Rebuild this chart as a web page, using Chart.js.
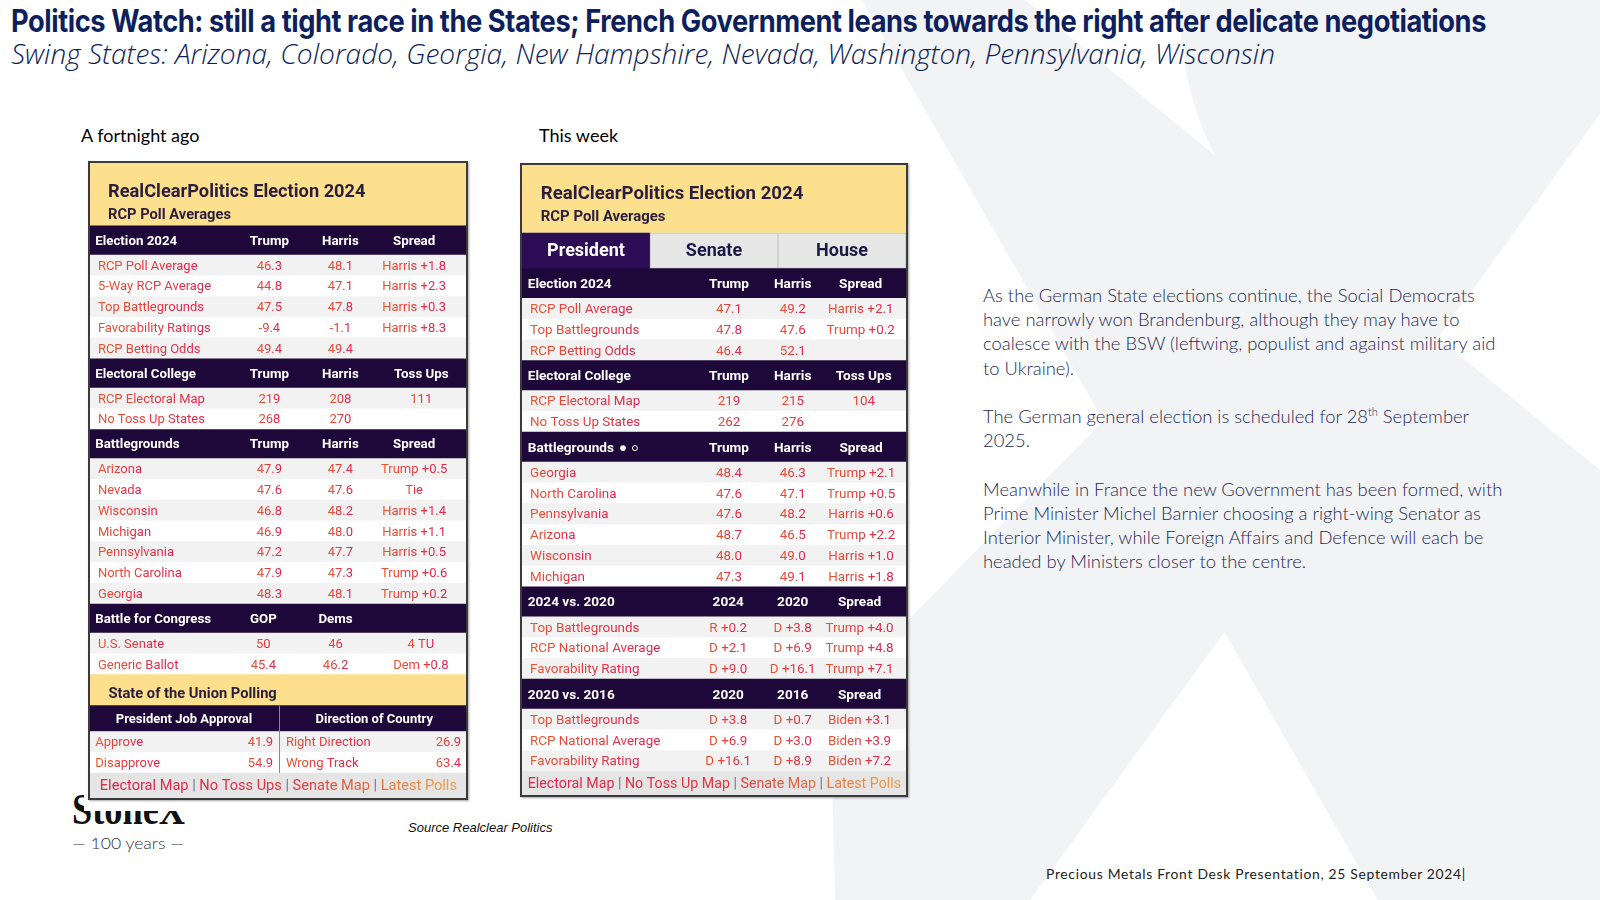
<!DOCTYPE html>
<html>
<head>
<meta charset="utf-8">
<title>Politics Watch</title>
<script src="https://cdn.jsdelivr.net/npm/chart.js"></script>
<style>
  body { margin: 0; width: 1600px; height: 900px; position: relative; overflow: hidden; background: #fff; font-family: Lato, sans-serif; }
  .abs { position: absolute; white-space: nowrap; }
  .fit { transform-origin: left center; display: inline-block; }
  .bg { position: absolute; left: 0; top: 0; }
  .tbl { position: absolute; border: 2px solid #3b3b3b; box-shadow: 1px 1px 2px rgba(0,0,0,0.35); background: #fff; z-index: 3; }
  .tbl canvas { display: block; }
  #mask { position: absolute; left: 84px; top: 150px; width: 388px; height: 661px; background: #fff; z-index: 2; }
</style>
</head>
<body>
<svg class="bg" width="1600" height="900">
  <path d="M862,0 L1025,0 L1600,470 L1600,900 L1378,900 Z" fill="#f2f3f5"/>
  <path d="M1180,0 L1600,0 L1600,114 L1030,900 L835,900 L830,700 L1280,240 C1212,180 1178,90 1180,0 Z" fill="#f2f3f5"/>
</svg>

<div id="title" class="abs fit" data-w="1475" style="left:11px; top:3px; font:700 31px/36px Inter; color:#0d1f5c; letter-spacing:-0.5px">Politics Watch: still a tight race in the States; French Government leans towards the right after delicate negotiations</div>
<div id="subtitle" class="abs fit" data-w="1264" style="left:11px; top:36px; font:italic 300 27px/36px 'Open Sans'; color:#0d1f5c">Swing States: Arizona, Colorado, Georgia, New Hampshire, Nevada, Washington, Pennsylvania, Wisconsin</div>

<div class="abs" style="left:81px; top:125px; font:18px/20px Lato; color:#000">A fortnight ago</div>
<div class="abs" style="left:539px; top:125px; font:18px/20px Lato; color:#000">This week</div>

<div class="abs fit" data-w="113" style="left:72px; top:788px; font:bold 44px/44px 'Liberation Serif'; color:#111">StoneX</div>
<div class="abs fit" data-w="112" style="left:72px; top:833px; font:300 16px/20px Lato; color:#333">— 100 years —</div>
<div id="mask"></div>

<div class="tbl" style="left:88px; top:161px"><canvas id="fortnightTable" width="376" height="635"></canvas></div>
<div class="tbl" style="left:520px; top:163px"><canvas id="weekTable" width="384" height="630"></canvas></div>

<div class="abs" style="left:408px; top:820px; font:italic 13px/16px 'Liberation Sans'; color:#111">Source Realclear Politics</div>

<div class="abs" style="left:983px; top:283px; font:300 18.4px/24.2px Lato; color:#1f2a56">
As the German State elections continue, the Social Democrats<br>
have narrowly won Brandenburg, although they may have to<br>
coalesce with the BSW (leftwing, populist and against military aid<br>
to Ukraine).<br>
<br>
The German general election is scheduled for 28<sup style="font-size:11px; line-height:0; vertical-align:7px">th</sup> September<br>
2025.<br>
<br>
Meanwhile in France the new Government has been formed, with<br>
Prime Minister Michel Barnier choosing a right-wing Senator as<br>
Interior Minister, while Foreign Affairs and Defence will each be<br>
headed by Ministers closer to the centre.
</div>

<div class="abs fit" data-w="420" style="left:1046px; top:865px; font:14px/18px Lato; letter-spacing:0.7px; color:#222">Precious Metals Front Desk Presentation, 25 September 2024|</div>

<script>
// Tabella di due settimane fa
const electionHead = ['Election 2024', 'Trump', 'Harris', 'Spread'];
const collegeHead = ['Electoral College', 'Trump', 'Harris', 'Toss Ups'];
const battleHead = ['Battlegrounds', 'Trump', 'Harris', 'Spread'];
const congressHead = ['Battle for Congress', 'GOP', 'Dems', ''];
const vs2020Head = ['2024 vs. 2020', '2024', '2020', 'Spread'];
const vs2016Head = ['2020 vs. 2016', '2020', '2016', 'Spread'];
const unionHead = ['President Job Approval', 'Direction of Country'];

const oldElectionRows = [
  ['RCP Poll Average', 46.3, 48.1, 'Harris +1.8'],
  ['5-Way RCP Average', 44.8, 47.1, 'Harris +2.3'],
  ['Top Battlegrounds', 47.5, 47.8, 'Harris +0.3'],
  ['Favorability Ratings', -9.4, -1.1, 'Harris +8.3'],
  ['RCP Betting Odds', 49.4, 49.4, '']
];
const oldCollegeRows = [
  ['RCP Electoral Map', 219, 208, 111],
  ['No Toss Up States', 268, 270, '']
];
const oldBattleRows = [
  ['Arizona', 47.9, 47.4, 'Trump +0.5'],
  ['Nevada', 47.6, 47.6, 'Tie'],
  ['Wisconsin', 46.8, 48.2, 'Harris +1.4'],
  ['Michigan', 46.9, 48.0, 'Harris +1.1'],
  ['Pennsylvania', 47.2, 47.7, 'Harris +0.5'],
  ['North Carolina', 47.9, 47.3, 'Trump +0.6'],
  ['Georgia', 48.3, 48.1, 'Trump +0.2']
];
const oldCongressRows = [
  ['U.S. Senate', '50', '46', '4 TU'],
  ['Generic Ballot', 45.4, 46.2, 'Dem +0.8']
];
const oldApproval = [['Approve', 41.9], ['Disapprove', 54.9]];
const oldDirection = [['Right Direction', 26.9], ['Wrong Track', 63.4]];
const oldLinks = ['Electoral Map', 'No Toss Ups', 'Senate Map', 'Latest Polls'];

// Tabella di questa settimana
const newTabs = ['President', 'Senate', 'House'];
const newElectionRows = [
  ['RCP Poll Average', 47.1, 49.2, 'Harris +2.1'],
  ['Top Battlegrounds', 47.8, 47.6, 'Trump +0.2'],
  ['RCP Betting Odds', 46.4, 52.1, '']
];
const newCollegeRows = [
  ['RCP Electoral Map', 219, 215, 104],
  ['No Toss Up States', 262, 276, '']
];
const newBattleRows = [
  ['Georgia', 48.4, 46.3, 'Trump +2.1'],
  ['North Carolina', 47.6, 47.1, 'Trump +0.5'],
  ['Pennsylvania', 47.6, 48.2, 'Harris +0.6'],
  ['Arizona', 48.7, 46.5, 'Trump +2.2'],
  ['Wisconsin', 48.0, 49.0, 'Harris +1.0'],
  ['Michigan', 47.3, 49.1, 'Harris +1.8']
];
const newVs2020Rows = [
  ['Top Battlegrounds', 'R +0.2', 'D +3.8', 'Trump +4.0'],
  ['RCP National Average', 'D +2.1', 'D +6.9', 'Trump +4.8'],
  ['Favorability Rating', 'D +9.0', 'D +16.1', 'Trump +7.1']
];
const newVs2016Rows = [
  ['Top Battlegrounds', 'D +3.8', 'D +0.7', 'Biden +3.1'],
  ['RCP National Average', 'D +6.9', 'D +3.0', 'Biden +3.9'],
  ['Favorability Rating', 'D +16.1', 'D +8.9', 'Biden +7.2']
];
const newLinks = ['Electoral Map', 'No Toss Up Map', 'Senate Map', 'Latest Polls'];

const tableTitle = ['RealClearPolitics Election 2024', 'RCP Poll Averages'];

// Aspetto delle due tabelle (altezze righe, colonne in % della larghezza)
const fortnightLook = {
  heights: { title: 63, head: 29.2, data: 20.8, band: 31, subhead: 26, split: 20.8, links: 25 },
  cols: { election: [47.7, 66.6, 86.2], college: [47.7, 66.6, 88.1], battle: [47.7, 66.6, 86.2], congress: [46.1, 65.3, 88.0] },
  labelX: 2.1, headX: 1.4, titleX: 4.8, titleY: 28, subY: 51.2,
  titleW: 68.5, subW: 32.7, linksW: 95,
  body: '13px Roboto', head: 'bold 13.3px Roboto', band: 'bold 14.7px Roboto', subhead: 'bold 13px Roboto'
};
const weekLook = {
  heights: { title: 68, tabs: 35.3, head: 30, data: 20.8, links: 23.5 },
  cols: { election: [53.9, 70.5, 88.2], college: [53.9, 70.5, 89.0], battle: [53.9, 70.5, 88.3], vs2020: [53.7, 70.5, 87.9], vs2016: [53.7, 70.5, 87.9] },
  labelX: 2.1, headX: 1.5, titleX: 4.9, titleY: 28, subY: 51.6,
  titleW: 68.4, subW: 32.5, linksW: 97.3,
  body: '13.4px Roboto', head: 'bold 13.6px Roboto', tab: 'bold 18px Roboto'
};

function section(name, head, body, dec, extra) {
  return [Object.assign({ kind: 'head', section: name, cells: head }, extra || {})]
    .concat(body.map((b, i) => ({ kind: 'data', section: name, cells: b, dec: dec, odd: i % 2 === 1 })));
}

const fortnightRows = [
  { kind: 'title', cells: tableTitle },
  ...section('election', electionHead, oldElectionRows, 1),
  ...section('college', collegeHead, oldCollegeRows, 0),
  ...section('battle', battleHead, oldBattleRows, 1),
  ...section('congress', congressHead, oldCongressRows, 1),
  { kind: 'band', cells: ['State of the Union Polling'] },
  { kind: 'subhead', cells: unionHead },
  ...oldApproval.map((a, i) => ({ kind: 'split', cells: [a[0], a[1], oldDirection[i][0], oldDirection[i][1]], odd: i % 2 === 1 })),
  { kind: 'links', cells: oldLinks }
];

const weekRows = [
  { kind: 'title', cells: tableTitle },
  { kind: 'tabs', cells: newTabs },
  ...section('election', electionHead, newElectionRows, 1),
  ...section('college', collegeHead, newCollegeRows, 0),
  ...section('battle', battleHead, newBattleRows, 1, { dots: true }),
  ...section('vs2020', vs2020Head, newVs2020Rows, 1),
  ...section('vs2016', vs2016Head, newVs2016Rows, 1),
  { kind: 'links', cells: newLinks }
];

function rowColor(r) {
  switch (r.kind) {
    case 'title': case 'band': return '#fde08d';
    case 'head': case 'subhead': return '#1e0839';
    case 'tabs': return '#e6e6e6';
    case 'links': return '#e5e5e5';
    default: return r.odd ? '#ffffff' : '#f2f2f2';
  }
}

const fmt = (v, dec) => typeof v === 'number' ? v.toFixed(dec) : v;

// testo con il gradiente arancio-rosso tipico di RCP
function drawText(ctx, s, px, py, align, font, color) {
  if (s === '' || s == null) return;
  ctx.font = font;
  ctx.textBaseline = 'middle';
  ctx.textAlign = align;
  if (color === 'grad') {
    const w = ctx.measureText(s).width;
    const x0 = align === 'left' ? px : align === 'right' ? px - w : px - w / 2;
    const g = ctx.createLinearGradient(x0, 0, x0 + w, 0);
    g.addColorStop(0, '#e9562e');
    g.addColorStop(1, '#e22350');
    ctx.fillStyle = g;
  } else {
    ctx.fillStyle = color;
  }
  ctx.fillText(s, px, py + 1);
}

function fitFont(ctx, s, weight, target) {
  ctx.font = weight + ' 20px Roboto';
  const size = 20 * target / ctx.measureText(s).width;
  return weight + ' ' + size.toFixed(2) + 'px Roboto';
}

function tablePlugin(rows, look) {
  return {
    id: 'tableText',
    afterDatasetsDraw(chart) {
      const { ctx, scales: { x, y } } = chart;
      const X = v => x.getPixelForValue(v);
      const Y = v => y.getPixelForValue(v);
      const W = X(100) - X(0);
      ctx.save();
      rows.forEach(r => {
        const mid = Y((r.start + r.end) / 2);
        if (r.kind === 'title') {
          drawText(ctx, r.cells[0], X(look.titleX), Y(r.start + look.titleY), 'left', fitFont(ctx, r.cells[0], 'bold', W * look.titleW / 100), '#2a1d3d');
          drawText(ctx, r.cells[1], X(look.titleX), Y(r.start + look.subY), 'left', fitFont(ctx, r.cells[1], 'bold', W * look.subW / 100), '#2a1d3d');
        } else if (r.kind === 'tabs') {
          r.cells.forEach((c, i) => drawText(ctx, c, X((i + 0.5) * 100 / r.cells.length), mid, 'center', look.tab, i === 0 ? '#ffffff' : '#1d1946'));
        } else if (r.kind === 'head') {
          const cols = look.cols[r.section];
          drawText(ctx, r.cells[0], X(look.headX), mid, 'left', look.head, '#ffffff');
          r.cells.slice(1).forEach((c, i) => drawText(ctx, c, X(cols[i]), mid, 'center', look.head, '#ffffff'));
          if (r.dots) {
            ctx.fillStyle = '#ffffff';
            ctx.strokeStyle = '#ffffff';
            ctx.lineWidth = 1;
            ctx.beginPath(); ctx.arc(X(26.3), mid + 1, 2.8, 0, Math.PI * 2); ctx.fill();
            ctx.beginPath(); ctx.arc(X(29.4), mid + 1, 2.5, 0, Math.PI * 2); ctx.stroke();
          }
        } else if (r.kind === 'data') {
          const cols = look.cols[r.section];
          drawText(ctx, r.cells[0], X(look.labelX), mid, 'left', look.body, 'grad');
          r.cells.slice(1).forEach((c, i) => drawText(ctx, fmt(c, r.dec), X(cols[i]), mid, 'center', look.body, 'grad'));
        } else if (r.kind === 'band') {
          drawText(ctx, r.cells[0], X(4.9), mid + 3.5, 'left', look.band, '#2a1d3d');
        } else if (r.kind === 'subhead') {
          drawText(ctx, r.cells[0], X(25), mid, 'center', look.subhead, '#ffffff');
          drawText(ctx, r.cells[1], X(75.6), mid, 'center', look.subhead, '#ffffff');
        } else if (r.kind === 'split') {
          drawText(ctx, r.cells[0], X(1.4), mid, 'left', look.body, 'grad');
          drawText(ctx, fmt(r.cells[1], 1), X(48.7), mid, 'right', look.body, 'grad');
          drawText(ctx, r.cells[2], X(52.1), mid, 'left', look.body, 'grad');
          drawText(ctx, fmt(r.cells[3], 1), X(98.7), mid, 'right', look.body, 'grad');
        } else if (r.kind === 'links') {
          const sep = ' | ';
          const full = r.cells.join(sep);
          const font = fitFont(ctx, full, '', W * look.linksW / 100);
          ctx.font = font;
          const total = ctx.measureText(full).width;
          const x0 = X(50.1) - total / 2;
          const g = ctx.createLinearGradient(x0, 0, x0 + total, 0);
          g.addColorStop(0, '#e1234f');
          g.addColorStop(0.55, '#e5383f');
          g.addColorStop(0.78, '#e9713a');
          g.addColorStop(1, '#eda24a');
          let px = x0;
          r.cells.forEach((c, i) => {
            if (i > 0) {
              drawText(ctx, sep, px, mid, 'left', font, '#66759a');
              px += ctx.measureText(sep).width;
            }
            ctx.font = font;
            ctx.textAlign = 'left';
            ctx.fillStyle = g;
            ctx.fillText(c, px, mid + 1);
            px += ctx.measureText(c).width;
          });
        }
      });
      // divisorio verticale della sezione State of the Union
      const split = rows.filter(r => r.kind === 'subhead' || r.kind === 'split');
      if (split.length) {
        ctx.strokeStyle = '#8a8a8a';
        ctx.lineWidth = 1;
        ctx.beginPath();
        ctx.moveTo(Math.round(X(50.3)) + 0.5, Y(split[0].start));
        ctx.lineTo(Math.round(X(50.3)) + 0.5, Y(split[split.length - 1].end));
        ctx.stroke();
      }
      ctx.restore();
    }
  };
}

function createTable(canvasId, rows, look) {
  const canvas = document.getElementById(canvasId);
  const w = canvas.width;
  let acc = 0;
  rows.forEach(r => { r.start = acc; acc += look.heights[r.kind]; r.end = acc; });

  // righe della tabella come barre flottanti (order 1 = disegnate sotto)
  const datasets = [{
    data: rows.map(r => ({ x: 50, y: [r.start, r.end] })),
    backgroundColor: rows.map(rowColor),
    barThickness: w,
    borderWidth: 0,
    stack: 'cells',
    order: 1
  }];
  const tabRow = rows.find(r => r.kind === 'tabs');
  if (tabRow) {
    const n = tabRow.cells.length;
    datasets.push({
      data: tabRow.cells.map((c, i) => ({ x: (i + 0.5) * 100 / n, y: [tabRow.start, tabRow.end] })),
      backgroundColor: tabRow.cells.map((c, i) => i === 0 ? '#2b0c55' : '#e7e7e7'),
      borderColor: '#c8c8c8',
      borderWidth: tabRow.cells.map((c, i) => i === 0 ? 0 : 1),
      borderSkipped: false,
      barThickness: w / n,
      stack: 'cells',
      order: 0
    });
  }

  return new Chart(canvas, {
    type: 'bar',
    data: { datasets: datasets },
    options: {
      responsive: false,
      animation: false,
      events: [],
      layout: { padding: 0 },
      plugins: { legend: { display: false }, tooltip: { enabled: false } },
      scales: {
        x: { type: 'linear', min: 0, max: 100, offset: false, display: false },
        y: { type: 'linear', min: 0, max: acc, reverse: true, display: false, stacked: false }
      }
    },
    plugins: [tablePlugin(rows, look)]
  });
}

createTable('fortnightTable', fortnightRows, fortnightLook);
createTable('weekTable', weekRows, weekLook);

// adatta la larghezza dei testi della pagina
document.querySelectorAll('.fit').forEach(el => {
  const w = el.getBoundingClientRect().width;
  el.style.transform = 'scaleX(' + (el.dataset.w / w) + ')';
});
</script>
</body>
</html>
